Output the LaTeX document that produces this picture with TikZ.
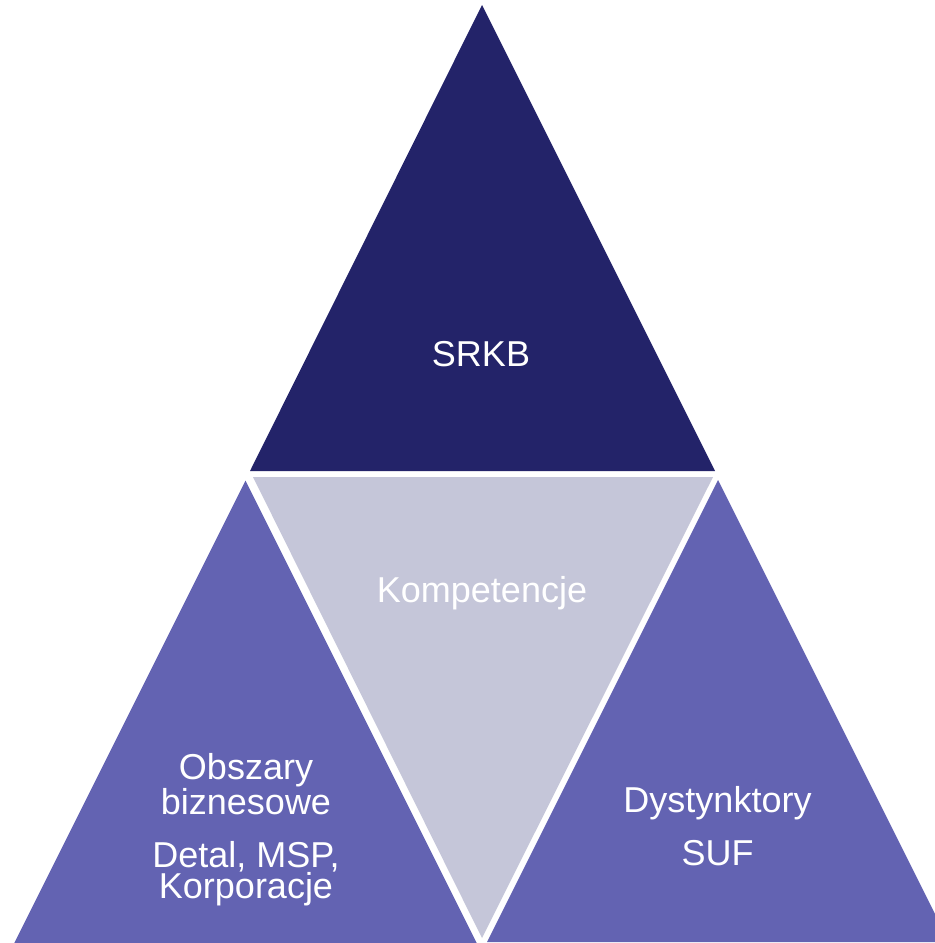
\documentclass[tikz,border=0pt]{standalone}
\usepackage{fontspec}
\setmainfont{Liberation Sans}
\definecolor{darkblue}{RGB}{35,35,105}
\definecolor{midblue}{RGB}{99,99,178}
\definecolor{lightblue}{RGB}{197,198,217}
\tikzset{
  lbl/.style={text=white, inner sep=0pt, anchor=base, align=center,
    font=\fontsize{27pt}{23.25pt}\selectfont}
}
\begin{document}
\begin{tikzpicture}[x=0.75pt,y=-0.75pt]
\useasboundingbox (0,0) rectangle (935,943);
\fill[white] (0,0) rectangle (935,943);
\begin{scope}
\clip (0,0) rectangle (935,943);
% top triangle
\fill[darkblue] (482,5) -- (715,471) -- (250,471) -- cycle;
% bottom left triangle
\fill[midblue] (245.5,480.5) -- (477,943.5) -- (14,943.5) -- cycle;
% bottom right triangle
\fill[midblue] (718,480) -- (949,942) -- (487,942) -- cycle;
% middle inverted triangle
\fill[lightblue] (253,477) -- (713,477) -- (482,938) -- cycle;
\end{scope}
\node[lbl] (srkb) at (481,366) {SRKB};
\node[lbl] (komp) at (482,602) {Kompetencje};
\node[lbl] (obsz) at (246,898) {Obszary\\biznesowe\\[16.5pt]Detal, MSP,\\Korporacje};
\node[lbl] (dyst) at (717.5,865) {Dystynktory\\[14.25pt]SUF};
\end{tikzpicture}
\end{document}
